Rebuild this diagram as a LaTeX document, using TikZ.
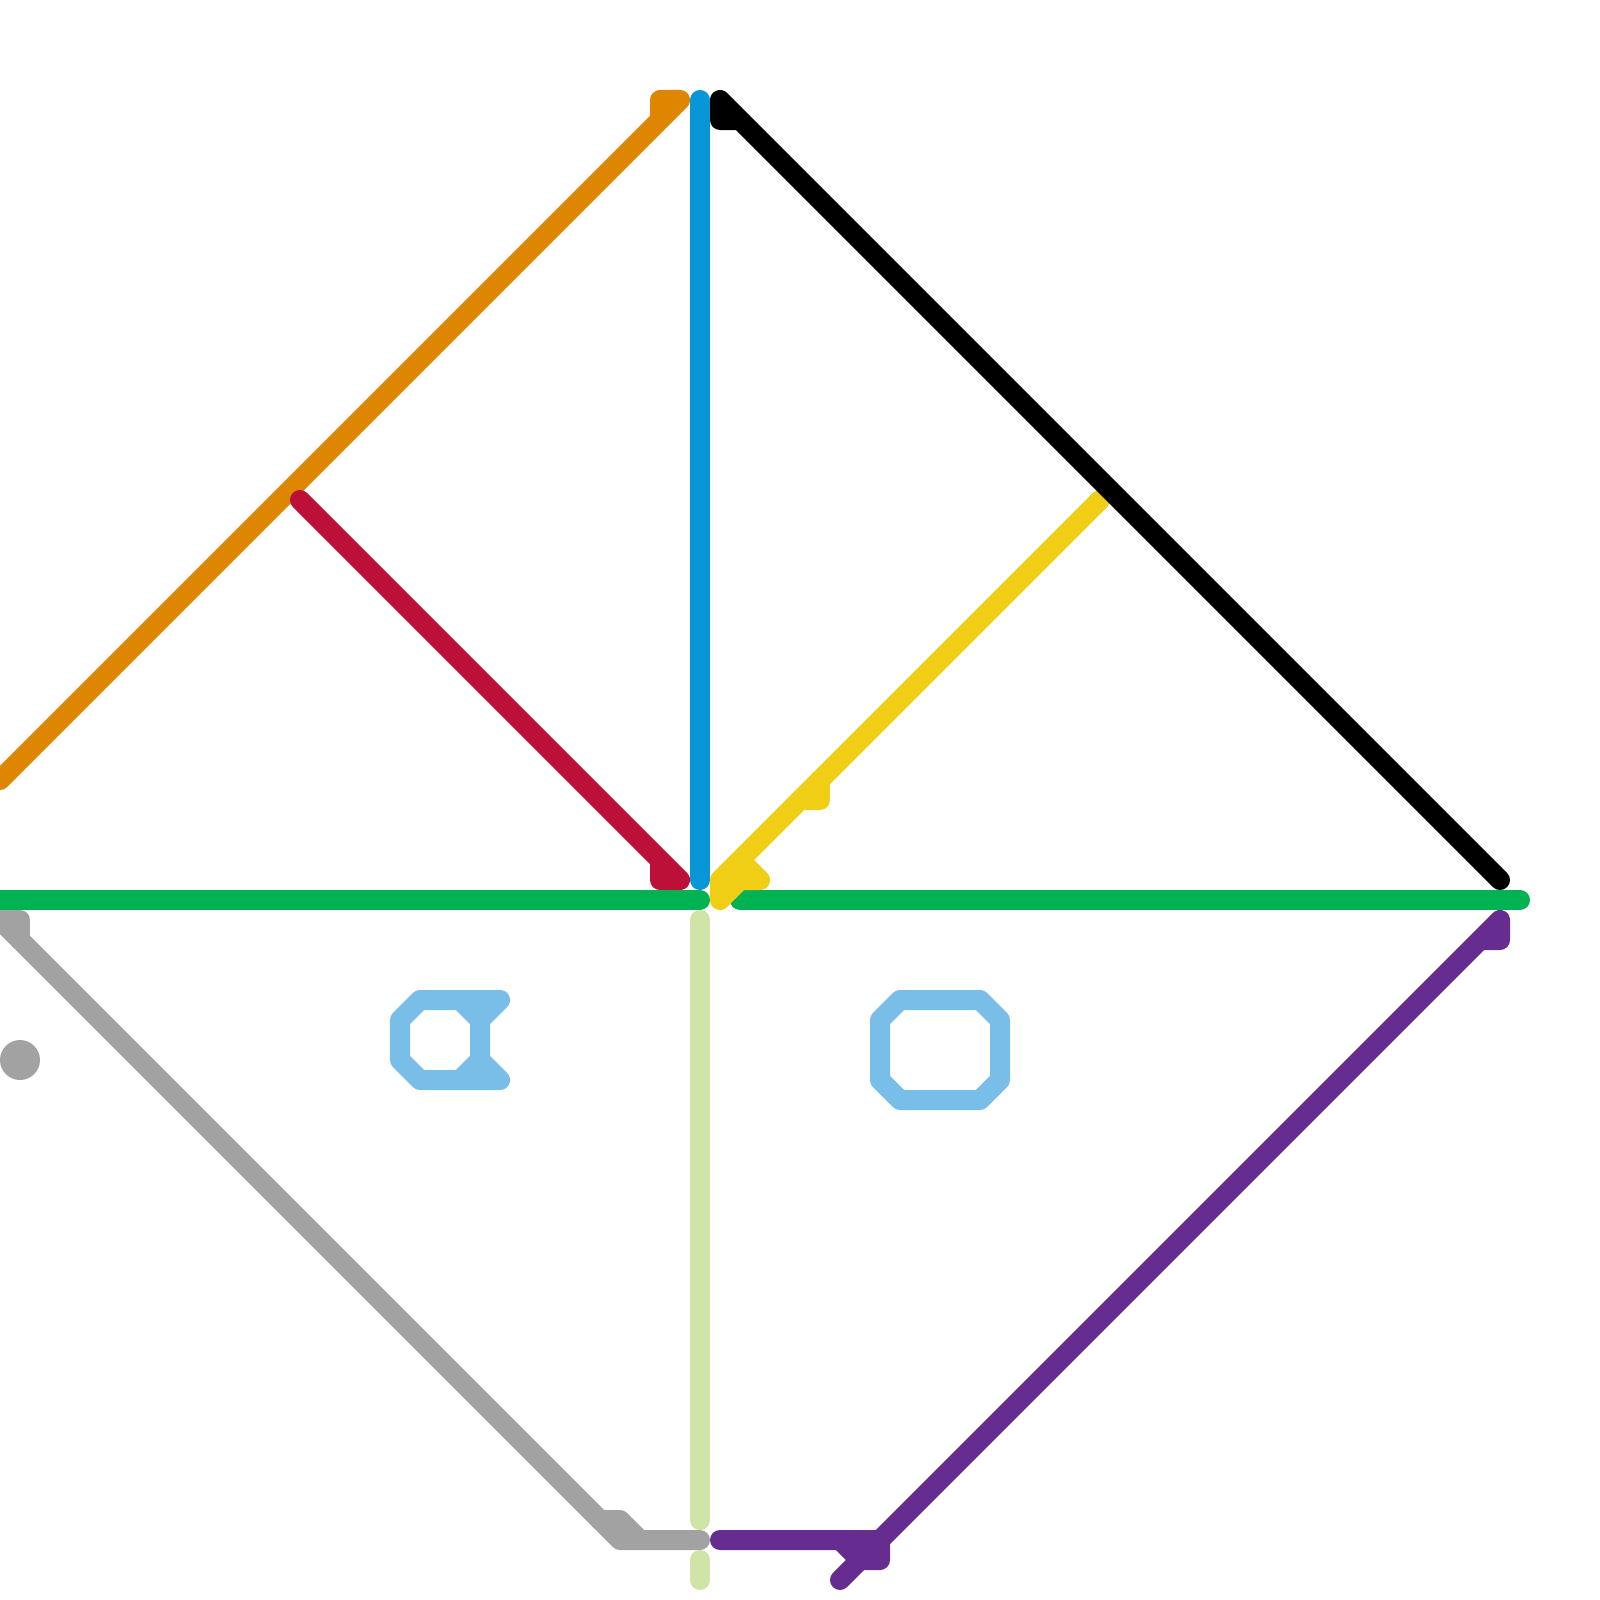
\documentclass[tikz,border=0pt]{standalone}
\definecolor{mOrange}{HTML}{DF8600}
\definecolor{mBlue}{HTML}{0896D7}
\definecolor{mRed}{HTML}{BD1038}
\definecolor{mYellow}{HTML}{F0CE15}
\definecolor{mGreen}{HTML}{00B251}
\definecolor{mPale}{HTML}{CFE4A7}
\definecolor{mGrey}{HTML}{A2A2A2}
\definecolor{mPurple}{HTML}{662C90}
\definecolor{mSky}{HTML}{79BDE9}
\tikzset{metro/.style={line width=2mm,line cap=round,line join=round}}
\begin{document}
\begin{tikzpicture}[x=0.01cm,y=-0.01cm]
\useasboundingbox (0,0) rectangle (1600,1600);
\clip (0,0) rectangle (1600,1600);
% orange
\draw[metro,mOrange] (660,120) -- (660,100) -- (680,100) -- (0,780);
% red
\draw[metro,mRed] (660,860) -- (660,880) -- (680,880) -- (300,500);
% blue
\draw[metro,mBlue] (700,100) -- (700,880);
% pale green
\draw[metro,mPale] (700,920) -- (700,1520);
\draw[metro,mPale] (700,1560) -- (700,1580);
% green
\draw[metro,mGreen] (0,900) -- (700,900);
\draw[metro,mGreen] (740,900) -- (1520,900);
% yellow
\draw[metro,mYellow] (1100,500) -- (720,880) -- (720,900) -- (740,880) -- (760,880) -- (740,860);
\draw[metro,mYellow] (800,800) -- (820,800) -- (820,780);
% black
\draw[metro,black] (1500,880) -- (720,100) -- (720,120) -- (740,120);
% grey
\draw[metro,mGrey] (0,920) -- (20,920) -- (20,940);
\draw[metro,mGrey] (0,920) -- (620,1540) -- (700,1540);
\draw[metro,mGrey] (600,1520) -- (620,1520) -- (640,1540);
\fill[mGrey] (20,1060) circle[radius=20];
% purple
\draw[metro,mPurple] (720,1540) -- (880,1540) -- (880,1560) -- (860,1560) -- (840,1540);
\draw[metro,mPurple] (840,1580) -- (1500,920) -- (1500,940) -- (1480,940);
% sky blue
\draw[metro,mSky] (500,1000) -- (420,1000) -- (400,1020) -- (400,1060) -- (420,1080) -- (500,1080) -- (480,1060) -- (480,1020) -- cycle;
\draw[metro,mSky] (460,1000) -- (480,1020);
\draw[metro,mSky] (480,1060) -- (460,1080);
\draw[metro,mSky] (880,1020) -- (900,1000) -- (980,1000) -- (1000,1020) -- (1000,1080) -- (980,1100) -- (900,1100) -- (880,1080) -- cycle;
\end{tikzpicture}
\end{document}
